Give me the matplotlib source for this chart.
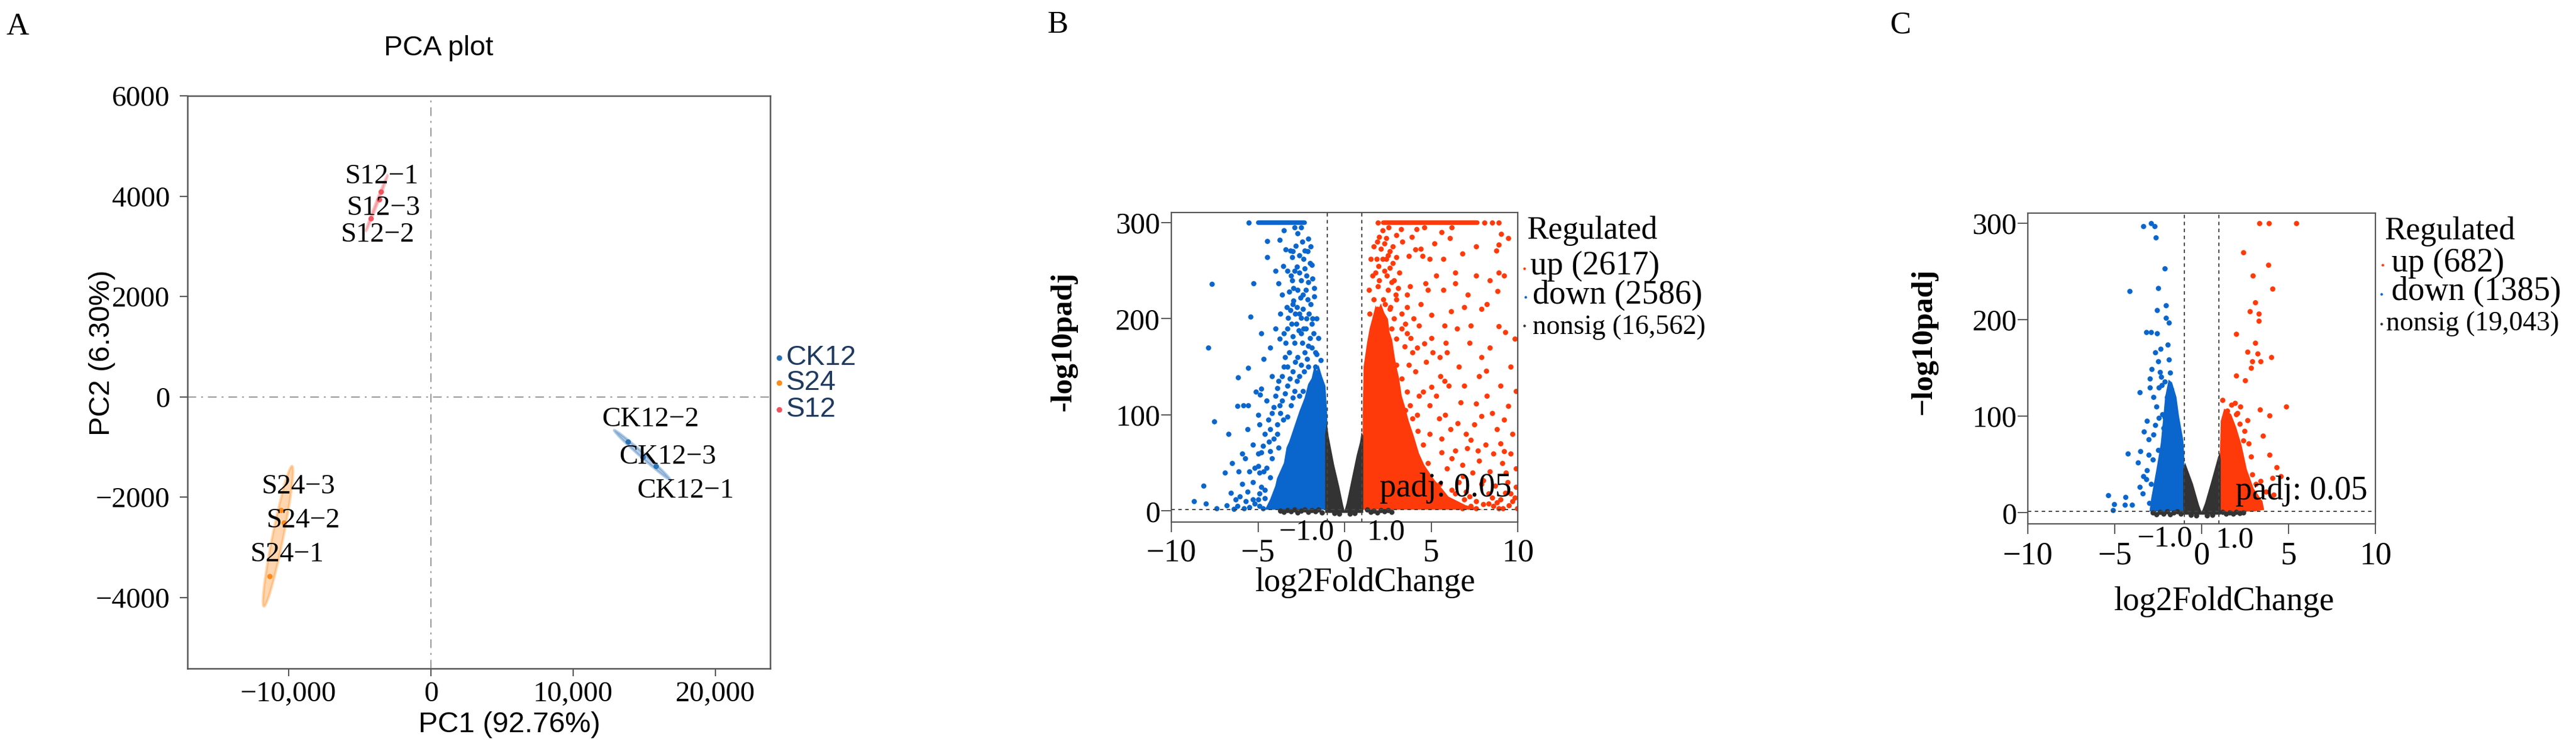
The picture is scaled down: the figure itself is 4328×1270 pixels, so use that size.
import numpy as np
import matplotlib
matplotlib.use("Agg")
import matplotlib.pyplot as plt
from matplotlib.patches import Ellipse, Polygon

# %% Settings
SERIF = "Liberation Serif"
SANS = "Liberation Sans"
W, H = 4328, 1270          # output size in pixels (dpi 100)

BLUE = "#0a66cc"
RED = "#ff3a0a"
GREY = "#333333"
DOT = 40                   # volcano marker area

# %% PCA data (PC1, PC2) - samples ordered -1, -2, -3
pca_groups = ["CK12", "S24", "S12"]
pca_colors = ["#2b72b5", "#ff8a1c", "#f2545f"]
ck12_pc1 = [15816, 13849, 14895]
ck12_pc2 = [-1376, -889, -1200]
s24_pc1 = [-11339, -10335, -10544]
s24_pc2 = [-3569, -2502, -2253]
s12_pc1 = [-3515, -4226, -3650]
s12_pc2 = [4091, 3557, 3940]
pc1_ticks = [-10000, 0, 10000, 20000]
pc1_ticklabels = ["\u221210,000", "0", "10,000", "20,000"]
pc2_ticks = [-4000, -2000, 0, 2000, 4000, 6000]
pc2_ticklabels = ["\u22124000", "\u22122000", "0", "2000", "4000", "6000"]

# label positions as placed by the repel step in the original
label_xy = {
    "CK12": [(17908, -1874), (15439, -451), (16653, -1198)],
    "S24": [(-10084, -3142), (-8954, -2466), (-9289, -1791)],
    "S12": [(-3431, 4388), (-3724, 3225), (-3305, 3759)],
}

# %% Volcano B (S12 vs CK12)
b_counts = {"up": "2617", "down": "2586", "nonsig": "16,562"}
b_down_x = [-5.54, -2.70, -4.46, -3.74, -3.39, -3.13, -2.98, -2.82, -2.29, -2.13, -3.04, -2.62, -2.36,
            -2.75, -1.90, -4.46, -5.25, -3.82, -3.01, -1.75, -7.65, -5.43, -2.94, -2.13, -1.75, -7.88,
            -7.53, -6.70, -6.15, -5.55, -4.69, -5.12, -5.58, -6.17, -5.84, -4.82, -4.89, -6.92, -8.16,
            -8.68, -7.99, -6.58, -6.04, -6.12, -5.74, -5.28, -5.51, -4.97, -4.66, -4.20, -3.74, -3.51,
            -3.28, -3.13, -2.52, -2.36, -1.60, -1.37, -3.74, -4.36, -4.82, -4.20,
            -2.5, -2.2, -2.7, -2.4, -3.0, -2.6, -2.2, -1.9, -2.8, -3.3, -2.5, -2.0, -2.9, -3.2, -2.7,
            -2.3, -1.9, -3.5, -3.0, -2.6, -2.1, -1.7, -3.8, -3.3, -2.9, -2.4, -4.0, -3.6, -3.1, -4.4,
            -3.9, -4.6, -4.1, -5.0, -4.5, -5.3, -4.8, -5.6, -5.0, -6.2, -5.5, -4.7, -2.0, -2.45, -3.55,
            -1.6, -1.5, -2.75, -3.45, -4.2, -3.55, -4.9, -5.9, -5.2, -4.9, -4.6, -5.8, -6.4,
            -3.3, -3.1, -2.9, -2.6, -2.3, -2.1, -1.85, -3.2, -2.95, -2.55, -2.25, -1.95, -3.35, -2.85,
            -2.4, -2.05, -1.8, -3.05, -2.65, -2.25, -1.85, -3.4, -3.0, -2.45, -2.1, -1.7, -3.3, -2.85,
            -2.5, -2.15, -3.6, -3.15, -2.75, -2.35, -3.9, -3.45, -3.0, -2.6, -4.1, -3.7, -3.3, -4.3,
            -3.9, -4.7, -4.3, -3.8, -4.9, -4.3, -5.2, -4.6, -5.3, -4.9, -5.7, -6.3, -6.8, -7.4, -5.9,
            -6.5, -5.6, -5.0, -4.5, -3.6, -3.7, -4.0, -4.3, -4.8, -4.0, -2.5, -2.9, -3.5, -2.1, -1.95]
b_down_y = [300, 289, 281, 282, 272, 271, 270, 276, 271, 270, 264, 266, 262,
            254, 256, 264, 237, 237, 240, 232, 236, 202, 219, 220, 223, 170,
            93, 80, 139, 149, 158, 124, 110, 109, 110, 127, 121, 40, 26,
            10, 8, 19, 15, 41, 55, 69, 41, 47, 41, 102, 179, 185,
            201, 209, 201, 190, 163, 157, 110, 72, 61, 55,
            240, 245, 230, 225, 215, 205, 200, 195, 195, 190, 185, 180, 175, 165, 160,
            165, 170, 150, 145, 140, 150, 150, 135, 130, 125, 125, 120, 115, 110, 95,
            90, 80, 75, 60, 45, 30, 25, 20, 12, 5, 4, 3, 258, 280, 255,
            200, 180, 212, 160, 140, 95, 90, 28, 8, 18, 13, 3, 2,
            250, 245, 250, 248, 252, 238, 242, 228, 232, 222, 230, 215, 212, 205,
            210, 205, 185, 195, 188, 190, 200, 175, 182, 175, 172, 165, 150, 155,
            152, 158, 140, 138, 135, 145, 128, 122, 118, 120, 108, 102, 98, 85,
            80, 68, 62, 66, 40, 35, 45, 22, 12, 5, 10, 12, 6, 3, 60,
            50, 85, 100, 115, 225, 205, 190, 170, 185, 250, 295, 295, 292, 283, 275]
b_up_x = [1.93, 8.07, 8.53, 8.91, 3.28, 4.16, 6.07, 9.03, 9.45, 8.91, 8.76, 1.90, 4.08, 4.39, 4.92,
          5.69, 6.38, 7.61, 8.91, 6.38, 4.69, 8.83, 8.22, 6.92, 6.15, 5.0, 4.31, 5.77, 7.30, 8.91,
          9.29, 9.83, 5.83, 5.92, 4.62, 5.08, 8.19, 7.76, 9.91, 5.54, 5.77, 5.0, 4.54, 6.69, 7.61,
          9.45, 8.53, 7.91, 6.53, 5.46, 7.0, 7.30, 8.14, 6.38, 7.07, 9.22, 5.61, 7.76, 9.12, 9.91,
          8.37, 5.92, 6.84, 5.77, 6.53, 7.61, 8.53, 9.29, 9.91, 9.83, 7.61, 9.14, 4.54, 4.23, 3.93,
          3.77, 3.62, 3.31, 3.0, 3.70, 3.93, 3.47, 3.0, 2.70, 3.31, 3.62, 3.0, 3.77, 2.85, 3.16,
          2.62, 2.39, 3.0, 2.78, 2.39, 3.0, 2.09, 1.86, 1.78, 1.93, 1.70, 2.24, 2.16, 1.78,
          6.0, 6.9, 7.3, 8.0, 8.8, 9.5, 9.7, 8.3, 7.0, 6.2, 5.5, 8.9, 9.95, 5.0, 4.6, 5.3, 6.6,
          7.9, 9.4, 4.0, 4.8, 3.4, 3.8, 4.9, 3.5, 4.2, 2.5, 2.6, 2.3, 2.0, 2.85, 3.6, 4.1, 4.3,
          2.6, 2.2, 2.55, 3.35, 3.7, 4.6, 5.6,
          1.4, 1.6, 1.5, 1.7, 2.0, 2.3, 2.5, 2.8, 2.2, 1.95, 2.45, 2.7, 3.1, 2.95, 2.35, 1.9, 1.45,
          2.65, 3.3, 3.5, 3.8, 4.2, 4.0, 3.6, 4.4, 4.8, 5.3, 5.0, 4.7, 4.9, 5.3, 5.8, 6.1, 5.6, 6.2,
          6.8, 7.4, 8.0, 8.7, 9.3, 9.6, 8.6, 7.5, 8.8, 9.0, 9.6, 8.4, 7.9, 6.6, 7.2, 6.5, 7.1, 7.9,
          8.4, 9.2, 6.8, 7.6, 5.2, 6.2, 3.9, 4.5, 5.7, 6.9, 8.2, 9.2, 6.0, 5.5, 9.7, 9.0, 7.7, 8.3,
          9.6, 9.0, 7.2, 6.4, 5.9, 6.8, 8.6]
b_up_y = [300, 300, 300, 300, 293, 293, 284, 288, 284, 277, 271, 280, 272, 273, 262,
          262, 248, 245, 248, 237, 237, 229, 215, 212, 208, 204, 193, 193, 193, 192,
          186, 179, 175, 165, 174, 165, 146, 140, 125, 140, 135, 129, 124, 113, 112,
          109, 102, 99, 91, 96, 80, 74, 69, 63, 65, 62, 61, 52, 50, 44,
          41, 44, 36, 14, 7, 10, 14, 19, 25, 14, 3, 3, 69, 83, 96,
          110, 124, 138, 152, 152, 165, 171, 179, 190, 190, 212, 220, 234, 240, 248,
          253, 262, 264, 275, 284, 287, 273, 262, 248, 234, 220, 220, 204, 196,
          8, 12, 5, 7, 9, 6, 10, 18, 20, 22, 28, 3, 3, 18, 10, 5, 30,
          28, 30, 55, 50, 60, 75, 80, 105, 100, 230, 210, 250, 240, 200, 185, 145, 120,
          270, 292, 295, 280, 265, 295, 290,
          230, 245, 262, 275, 285, 278, 266, 258, 262, 255, 245, 238, 232, 225, 215, 210, 205,
          212, 205, 195, 180, 170, 200, 225, 215, 230, 245, 180, 155, 110, 120, 100, 85, 75, 55,
          48, 40, 32, 26, 40, 60, 60, 90, 85, 130, 150, 170, 160, 150, 175, 190, 225, 210,
          240, 245, 268, 275, 278, 295, 285, 265, 230, 130, 120, 95, 130, 160, 80, 70, 63, 8,
          18, 12, 15, 18, 5, 3, 5]
b_ns_x = [-3.7, -3.5, -3.3, -3.1, -2.9, -2.7, -2.5, -2.3, -2.1, -1.9, -1.7, -1.5, -1.3,
          1.3, 1.5, 1.7, 1.9, 2.1, 2.3, 2.5, 2.7, -0.6, -0.3, 0.3, 0.6]
b_ns_y = [0.5, -1.2, 1.0, -0.6, 1.4, -1.5, 0.2, 1.2, -1.0, 0.6, -0.4, 1.5, -1.3,
          1.2, -1.0, 0.4, -1.4, 1.0, -0.5, 0.8, -1.2, -2.5, -3.0, -3.0, -2.5]
# saturated rows at -log10padj = 300 (x extent)
b_down_cap = [-4.97, -2.29]
b_up_cap = [2.24, 7.68]
# outlines of the fully packed point clouds
b_down_core_x = [-1.0, -1.0, -1.1, -1.3, -1.5, -1.6, -1.75, -1.9, -2.1, -2.3, -2.6, -2.75, -2.9,
                 -3.2, -3.35, -3.5, -3.9, -4.0, -4.3, -4.6]
b_down_core_y = [1.3, 100, 130, 140, 152, 146, 150, 138, 132, 118, 104, 96, 88, 72, 66, 50, 34,
                 26, 12, 1.3]
b_up_core_x = [1.05, 1.05, 1.1, 1.3, 1.45, 1.6, 1.8, 1.9, 2.1, 2.3, 2.5, 2.6, 2.75, 2.9, 3.0,
               3.15, 3.3, 3.5, 3.7, 4.0, 4.3, 4.6, 5.2, 5.6, 6.0, 7.0, 8.0]
b_up_core_y = [1.3, 100, 150, 175, 190, 200, 214, 208, 216, 206, 200, 186, 178, 160, 150,
               138, 120, 108, 94, 78, 60, 48, 32, 24, 15, 6, 1.3]
b_ns_core_x = [-1.12, -1.12, -1.02, -0.92, -0.6, -0.3, -0.08, 0.0, 0.12, 0.4, 0.7, 0.9, 0.98, 1.08, 1.08]
b_ns_core_y = [-2, 80, 92, 78, 48, 25, 6, 0.3, 8, 32, 58, 72, 82, 78, -2]

# %% Volcano C (S24 vs CK12)
c_counts = {"up": "682", "down": "1385", "nonsig": "19,043"}
c_down_x = [-3.34, -2.91, -2.71, -2.63, -2.11, -4.14, -2.50, -2.07, -2.57, -2.04, -1.87, -3.19, -2.91,
            -2.57, -1.94, -2.37, -2.67, -1.87, -2.51, -2.86, -2.98, -3.56, -2.34, -2.14, -2.98, -2.76,
            -3.14, -2.68, -2.45, -2.14, -3.06, -3.53, -4.25, -3.68, -3.33, -3.06, -2.76, -5.37, -5.03,
            -4.37, -4.42, -3.99, -5.09, -3.56, -3.37, -3.14, -2.3, -1.9, -1.6, -2.6, -2.2, -1.75, -2.4,
            -2.0, -1.7, -2.25, -2.5, -2.8, -3.2, -2.9, -1.55, -1.8, -3.4, -3.0, -2.45]
c_down_y = [297, 300, 297, 285, 253, 230, 233, 215, 210, 202, 197, 187, 187,
            186, 174, 170, 166, 159, 157, 149, 139, 125, 141, 136, 130, 120,
            95, 91, 98, 99, 60, 64, 61, 52, 84, 76, 81, 18, 9,
            16, 8, 8, 2.5, 27, 38, 44, 132, 118, 108, 110, 88, 128, 146,
            120, 105, 102, 65, 55, 35, 30, 92, 145, 20, 10, 130]
c_up_x = [3.31, 3.88, 5.43, 2.39, 3.85, 2.93, 4.08, 3.08, 2.77, 3.28, 3.28, 1.97, 3.08, 2.65, 3.23,
          2.90, 2.85, 3.39, 4.00, 1.97, 2.51, 4.85, 3.36, 3.92, 1.19, 1.93, 2.23, 2.05, 2.62, 2.46,
          3.54, 2.69, 2.85, 3.92, 4.31, 4.08, 4.54, 3.39, 3.69, 4.15, 2.77, 1.47, 1.54, 1.7, 1.3,
          2.2, 1.8, 2.4, 1.6, 2.9, 3.1, 2.0]
c_up_y = [300, 300, 300, 270, 257, 246, 232, 218, 209, 206, 199, 185, 176, 167, 165,
          157, 150, 157, 161, 142, 137, 110, 107, 101, 117, 114, 110, 103, 96, 85,
          80, 72, 58, 60, 47, 36, 38, 33, 22, 19, 8, 106, 88, 112, 98,
          92, 80, 75, 95, 40, 30, 102]
c_ns_x = [-2.8, -2.6, -2.4, -2.2, -2.0, -1.8, -1.6, -1.4, -1.2, 1.2, 1.4, 1.6, 1.8, 2.0, 2.2, 2.4,
          -0.6, -0.3, 0.3, 0.6]
c_ns_y = [0.5, -1.5, 1.0, -0.8, 1.3, -1.6, 0.3, 1.2, -1.2, 1.0, -1.3, 0.4, -1.0, 1.1, -0.6, 0.5,
          -2.5, -3.0, -3.0, -2.5]
c_down_core_x = [-1.0, -1.0, -1.05, -1.3, -1.45, -1.7, -1.9, -2.1, -2.2, -2.35, -2.6, -2.9, -3.0]
c_down_core_y = [1.3, 60, 75, 100, 120, 135, 138, 120, 100, 72, 45, 15, 1.3]
c_up_core_x = [1.05, 1.05, 1.1, 1.3, 1.7, 2.0, 2.3, 2.6, 3.0, 3.5, 3.6, 3.0]
c_up_core_y = [1.3, 60, 95, 108, 102, 88, 70, 45, 25, 12, 3, 1.3]
c_ns_core_x = [-1.06, -1.06, -0.95, -0.5, -0.15, 0.0, 0.2, 0.55, 0.95, 1.05, 1.1, 1.1]
c_ns_core_y = [-2, 45, 52, 30, 8, 0.5, 10, 32, 58, 62, 55, -2]

lfc_ticks = [-10, -5, 0, 5, 10]
lfc_ticklabels = ["\u221210", "\u22125", "0", "5", "10"]
padj_ticks = [0, 100, 200, 300]


def fx(px):
    return px / W


def fy(py):
    return 1 - py / H


def conf_ellipse(ax, x, y, color, k=2.0):
    x = np.asarray(x, float)
    y = np.asarray(y, float)
    vals, vecs = np.linalg.eigh(np.cov(x, y))
    ang = np.degrees(np.arctan2(vecs[1, -1], vecs[0, -1]))
    e = Ellipse((x.mean(), y.mean()), 2 * k * np.sqrt(vals[-1]), 2 * k * np.sqrt(max(vals[0], 0)),
                angle=ang, facecolor=color, alpha=0.35, edgecolor=color, lw=3, zorder=2)
    ax.add_patch(e)


fig = plt.figure(figsize=(W / 100, H / 100), dpi=100)

# %% Panel A: PCA
axA = fig.add_axes([fx(315), fy(1123), 979 / W, 962 / H])
pc1 = [ck12_pc1, s24_pc1, s12_pc1]
pc2 = [ck12_pc2, s24_pc2, s12_pc2]
for g, xs, ys, col in zip(pca_groups, pc1, pc2, pca_colors):
    conf_ellipse(axA, xs, ys, col)
    axA.scatter(xs, ys, s=42, color=col, zorder=3, linewidths=0)
    for i, (lx, ly) in enumerate(label_xy[g]):
        axA.text(lx, ly, f"{g}\u2212{i + 1}", family=SERIF, fontsize=34, ha="center", va="center",
                 zorder=4)

axA.axhline(0, color="#9a9a9a", lw=1.5, ls=(0, (7, 4, 1.5, 4)), zorder=1)
axA.axvline(0, color="#9a9a9a", lw=1.5, ls=(0, (7, 4, 1.5, 4)), zorder=1)
axA.set_xlim(-17100, 23850)
axA.set_ylim(-5410, 6000)
axA.set_xticks(pc1_ticks, pc1_ticklabels, family=SERIF, fontsize=35)
axA.set_yticks(pc2_ticks, pc2_ticklabels, family=SERIF, fontsize=35)
axA.tick_params(axis="both", direction="out", length=9.5, width=1.5, color="#555555")
axA.tick_params(axis="x", pad=5.5)
axA.tick_params(axis="y", pad=12)
for sp in axA.spines.values():
    sp.set_color("#555555")
    sp.set_linewidth(1.8)

# legend to the right of the panel
leg_y = [0.5426, 0.499, 0.4522]
for g, col, yy in zip(pca_groups, pca_colors, leg_y):
    axA.scatter([1.0153], [yy], s=45, color=col, transform=axA.transAxes, clip_on=False, linewidths=0)
    axA.text(1.0276, yy, g, transform=axA.transAxes, family=SANS, fontsize=34, color="#1f3a5f",
             ha="left", va="center")

fig.text(fx(737), fy(81), "PCA plot", family=SANS, fontsize=34, ha="center", va="center")
fig.text(fx(856), fy(1218), "PC1 (92.76%)", family=SANS, fontsize=35, ha="center", va="center")
fig.text(fx(171), fy(593), "PC2 (6.30%)", family=SANS, fontsize=35, ha="center", va="center",
         rotation=90)


# %% Volcano panels
def volcano(ax, down, up, ns, cores, caps, lab_pos, ylab, xlab_xy, ylab_xy, padj_xy, xpad):
    down_core, up_core, ns_core = cores
    ax.add_patch(Polygon(np.column_stack(down_core), closed=True, color=BLUE, lw=0, zorder=2))
    ax.add_patch(Polygon(np.column_stack(up_core), closed=True, color=RED, lw=0, zorder=2))
    ax.scatter(down[0], down[1], s=DOT, color=BLUE, linewidths=0, zorder=2)
    ax.scatter(up[0], up[1], s=DOT, color=RED, linewidths=0, zorder=2)
    if caps is not None:
        ax.plot(caps[0], [300, 300], color=BLUE, lw=5.5, solid_capstyle="round", zorder=2)
        ax.plot(caps[1], [300, 300], color=RED, lw=5.5, solid_capstyle="round", zorder=2)
    ax.add_patch(Polygon(np.column_stack(ns_core), closed=True, color=GREY, lw=0, zorder=3))
    ax.scatter(ns[0], ns[1], s=DOT, color=GREY, linewidths=0, zorder=3)

    ax.axvline(-1, color="#444444", lw=1.4, ls=(0, (3, 3)), zorder=4)
    ax.axvline(1, color="#444444", lw=1.4, ls=(0, (3, 3)), zorder=4)
    ax.axhline(-np.log10(0.05), color="#444444", lw=1.4, ls=(0, (3, 3)), zorder=4)

    ax.set_xlim(-10, 10)
    ax.set_ylim(-11.5, 310.5)
    ax.set_xticks(lfc_ticks, lfc_ticklabels, family=SERIF, fontsize=39)
    ax.set_yticks(padj_ticks, [str(t) for t in padj_ticks], family=SERIF, fontsize=36)
    ax.tick_params(axis="both", direction="out", length=12, width=1.4, color="#555555")
    ax.tick_params(axis="x", pad=xpad)
    ax.tick_params(axis="y", pad=1.5)
    for sp in ax.spines.values():
        sp.set_color("#555555")
        sp.set_linewidth(1.6)

    tr = ax.get_xaxis_transform()
    ax.text(lab_pos[0][0], lab_pos[0][1], "\u22121.0", transform=tr, family=SERIF, fontsize=37,
            ha="right", va="center")
    ax.text(lab_pos[1][0], lab_pos[1][1], "1.0", transform=tr, family=SERIF, fontsize=37,
            ha="left", va="center")
    ax.text(padj_xy[0], padj_xy[1], "padj: 0.05", family=SERIF, fontsize=40, ha="right",
            va="baseline", zorder=5)

    fig.text(fx(xlab_xy[0]), fy(xlab_xy[1]), "log2FoldChange", family=SERIF, fontsize=40,
             ha="center", va="center")
    fig.text(fx(ylab_xy[0]), fy(ylab_xy[1]), ylab, family=SERIF, fontsize=37, fontweight="bold",
             ha="center", va="center", rotation=90)


def volcano_legend(ax, counts, pos):
    (tx, ty), entries = pos
    ax.text(tx, ty, "Regulated", transform=ax.transAxes, family=SERIF, fontsize=39,
            ha="left", va="center")
    names = ["up", "down", "nonsig"]
    cols = [RED, BLUE, GREY]
    sizes = [40, 40, 33]
    for name, col, fs, (mx, my, lx, ly) in zip(names, cols, sizes, entries):
        ax.scatter([mx], [my], s=10, color=col, transform=ax.transAxes, clip_on=False, linewidths=0)
        ax.text(lx, ly, f"{name} ({counts[name]})", transform=ax.transAxes, family=SERIF,
                fontsize=fs, ha="left", va="center")


axB = fig.add_axes([fx(1968), fy(877), 582 / W, 520 / H])
volcano(axB, (b_down_x, b_down_y), (b_up_x, b_up_y), (b_ns_x, b_ns_y),
        ((b_down_core_x, b_down_core_y), (b_up_core_x, b_up_core_y), (b_ns_core_x, b_ns_core_y)),
        (b_down_cap, b_up_cap), [(-0.60, -0.033), (1.3, -0.033)], "-log10padj",
        (2294, 979), (1787, 574), (9.65, 15), xpad=7.2)
volcano_legend(axB, b_counts, ((1.026, 0.940),
                               [(1.019, 0.819, 1.036, 0.827),
                                (1.022, 0.727, 1.043, 0.733),
                                (1.019, 0.635, 1.043, 0.629)]))

axC = fig.add_axes([fx(3407), fy(880), 584 / W, 522 / H])
volcano(axC, (c_down_x, c_down_y), (c_up_x, c_up_y), (c_ns_x, c_ns_y),
        ((c_down_core_x, c_down_core_y), (c_up_core_x, c_up_core_y), (c_ns_core_x, c_ns_core_y)),
        None, [(-0.53, -0.048), (0.82, -0.052)], "\u2212log10padj",
        (3737, 1011), (3232, 574), (9.53, 13.6), xpad=8.6)
volcano_legend(axC, c_counts, ((1.026, 0.941),
                               [(1.021, 0.833, 1.046, 0.839),
                                (1.017, 0.739, 1.046, 0.747),
                                (1.017, 0.644, 1.031, 0.644)]))

# %% Panel letters
for letter, (px, py) in zip("ABC", [(30, 45), (1777, 42), (3193, 42)]):
    fig.text(fx(px), fy(py), letter, family=SERIF, fontsize=38, ha="center", va="center")

fig.savefig("out.png", dpi=100, facecolor="white")
